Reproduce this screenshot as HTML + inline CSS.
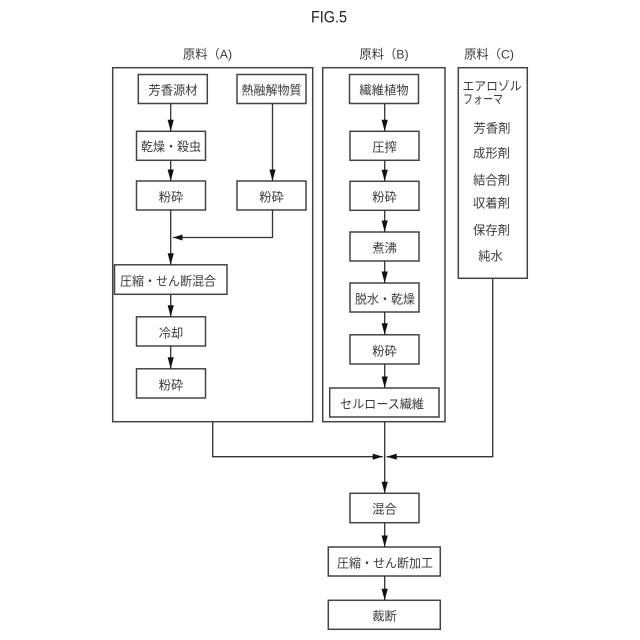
<!DOCTYPE html>
<html><head><meta charset="utf-8">
<style>
html,body{margin:0;padding:0;background:#fff}
svg{display:block}
text{font-family:"Liberation Sans","Noto Sans CJK JP",sans-serif;font-size:12.3px;fill:#3a3a3a;text-anchor:middle}
.b{fill:none;stroke:#444;stroke-width:1.5}
.l{fill:none;stroke:#333;stroke-width:1.3}
.a{fill:#111;stroke:none}
</style></head><body>
<svg width="640" height="640" viewBox="0 0 640 640" xmlns="http://www.w3.org/2000/svg">
<rect width="640" height="640" fill="#fff"/>
<text x="329" y="22.5" style="font-size:17px;fill:#222" textLength="36" lengthAdjust="spacingAndGlyphs">FIG.5</text>
<text x="207.5" y="58.5">原料（A)</text>
<text x="384" y="58.5">原料（B)</text>
<text x="489" y="58.5">原料（C)</text>

<rect class="b" x="112.7" y="67.7" width="200" height="354"/>
<rect class="b" x="322.7" y="67.7" width="122.3" height="354"/>
<rect class="b" x="458.3" y="67.7" width="69" height="210.6"/>

<rect class="b" x="138.3" y="74.5" width="69" height="29"/>
<rect class="b" x="237" y="74.5" width="69" height="29"/>
<rect class="b" x="136.5" y="131.3" width="69" height="29"/>
<rect class="b" x="136.5" y="181" width="69" height="29"/>
<rect class="b" x="237" y="181" width="69" height="29"/>
<rect class="b" x="114.5" y="264.8" width="112.5" height="29.5"/>
<rect class="b" x="136.5" y="316.8" width="69" height="29.2"/>
<rect class="b" x="136.5" y="368.8" width="69" height="29.2"/>

<rect class="b" x="349.5" y="74.5" width="69" height="29"/>
<rect class="b" x="350" y="131.3" width="69" height="29"/>
<rect class="b" x="350" y="181.3" width="69" height="29"/>
<rect class="b" x="350" y="232" width="69" height="29"/>
<rect class="b" x="350" y="283" width="69" height="29"/>
<rect class="b" x="350" y="334.8" width="69" height="29.2"/>
<rect class="b" x="329.7" y="388" width="109.3" height="29"/>

<rect class="b" x="350" y="493.3" width="69" height="29.4"/>
<rect class="b" x="328.3" y="547" width="112" height="29"/>
<rect class="b" x="328.3" y="600.3" width="112" height="29"/>

<path class="l" d="M170.7 103.5V131M170.7 160.3V181M170.7 210V264.8M170.7 294.3V316.8M170.7 346V368.8"/>
<path class="l" d="M272.5 103.5V181M272.5 210V237.5H173"/>
<path class="l" d="M384.7 103.5V131.3M384.7 160.3V181.3M384.7 210.3V232M384.7 261V283M384.7 312V334.8M384.7 364V388M384.7 421.7V493.3M384.7 522.7V547M384.7 576V600.3"/>
<path class="l" d="M212.7 421.7V456.7H382.7M492.7 278.3V456.7H386.7"/>

<path class="a" d="M170.7 131.3l-3.1-11.5h6.2zM170.7 181l-3.1-11.5h6.2zM170.7 264.8l-3.1-11.5h6.2zM170.7 316.8l-3.1-11.5h6.2zM170.7 368.8l-3.1-11.5h6.2z"/>
<path class="a" d="M272.5 181l-3.1-11.5h6.2zM173 237.5l9.5-3v6z"/>
<path class="a" d="M384.7 131.3l-3.1-11.5h6.2zM384.7 181.3l-3.1-11.5h6.2zM384.7 232l-3.1-11.5h6.2zM384.7 283l-3.1-11.5h6.2zM384.7 334.8l-3.1-11.5h6.2zM384.7 388l-3.1-11.5h6.2zM384.7 493.3l-3.1-11.5h6.2zM384.7 547l-3.1-11.5h6.2zM384.7 600.3l-3.1-11.5h6.2z"/>
<path class="a" d="M382.7 456.7l-10-3.1v6.2zM386.7 456.7l10-3.1v6.2z"/>

<text x="173" y="94.5">芳香源材</text>
<text x="271.5" y="94.5" textLength="60" lengthAdjust="spacingAndGlyphs">熱融解物質</text>
<text x="171" y="151" textLength="60" lengthAdjust="spacingAndGlyphs">乾燥・殺虫</text>
<text x="171" y="201.5">粉砕</text>
<text x="271.5" y="201.5">粉砕</text>
<text x="168" y="285.5" textLength="96" lengthAdjust="spacingAndGlyphs">圧縮・せん断混合</text>
<text x="171" y="337.5">冷却</text>
<text x="171" y="389.5">粉砕</text>

<text x="384" y="94.5">繊維植物</text>
<text x="384.5" y="151.5">圧搾</text>
<text x="384.5" y="201.5">粉砕</text>
<text x="384.5" y="252.5">煮沸</text>
<text x="385" y="303.5" textLength="60" lengthAdjust="spacingAndGlyphs">脱水・乾燥</text>
<text x="384.5" y="355.5">粉砕</text>
<text x="382" y="408.5" textLength="84" lengthAdjust="spacingAndGlyphs">セルロース繊維</text>

<text x="492" y="90.5" textLength="59" lengthAdjust="spacingAndGlyphs">エアロゾル</text>
<text x="483" y="103.5" textLength="40" lengthAdjust="spacingAndGlyphs">フォーマ</text>
<text x="492" y="132.5">芳香剤</text>
<text x="491.5" y="157.5">成形剤</text>
<text x="491.5" y="184.5">結合剤</text>
<text x="491.5" y="207.5">収着剤</text>
<text x="491.5" y="234.5">保存剤</text>
<text x="490.5" y="260.5">純水</text>

<text x="384.5" y="513.5">混合</text>
<text x="385" y="567.5" textLength="96" lengthAdjust="spacingAndGlyphs">圧縮・せん断加工</text>
<text x="384.5" y="620.5">裁断</text>
</svg>
</body></html>
